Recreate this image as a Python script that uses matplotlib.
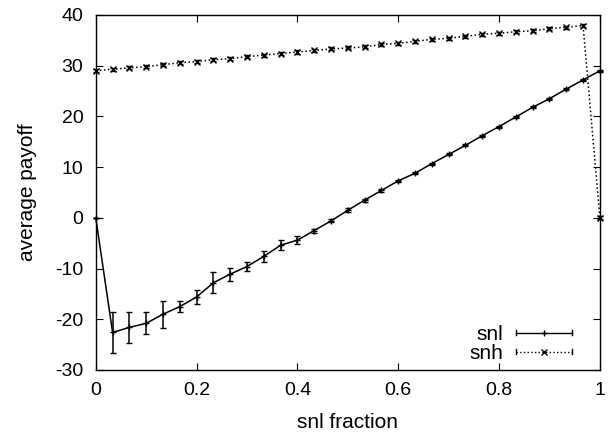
import numpy as np
import matplotlib
matplotlib.use("Agg")
import matplotlib.pyplot as plt
from matplotlib.legend_handler import HandlerBase
from matplotlib.lines import Line2D

plt.rcParams['font.family'] = ['Liberation Sans', 'DejaVu Sans']
plt.rcParams['axes.unicode_minus'] = False

# snl fraction, 31 points from 0 to 1
frac = np.arange(31) / 30.0

snl = [0.0, -22.6, -21.6, -20.8, -19.0, -17.5, -15.6, -12.8, -11.1, -9.6,
       -7.6, -5.4, -4.4, -2.5, -0.6, 1.5, 3.5, 5.4, 7.3, 8.8,
       10.7, 12.5, 14.3, 16.2, 18.0, 19.9, 21.8, 23.5, 25.4, 27.2, 29.0]
snl_err = [0.0, 4.1, 3.0, 2.2, 2.7, 1.1, 1.3, 2.1, 1.3, 0.9,
           1.1, 1.0, 0.8, 0.4, 0.3, 0.4, 0.3, 0.3, 0.2, 0.2,
           0.2, 0.2, 0.2, 0.2, 0.2, 0.2, 0.2, 0.2, 0.2, 0.2, 0.2]

snh = [29.0, 29.3, 29.6, 29.8, 30.2, 30.6, 30.8, 31.2, 31.4, 31.8,
       32.1, 32.4, 32.7, 33.0, 33.3, 33.5, 33.7, 34.2, 34.4, 34.8,
       35.2, 35.4, 35.8, 36.2, 36.4, 36.7, 36.9, 37.3, 37.6, 37.9, 0.0]
snh_err = [0.3] * 31


class ErrbarHandler(HandlerBase):
    # gnuplot-style key sample: horizontal line, caps at ends, point in middle
    def __init__(self, ls, marker):
        super().__init__()
        self.ls = ls
        self.marker = marker

    def create_artists(self, legend, orig_handle, xdescent, ydescent,
                       width, height, fontsize, trans):
        x0 = -xdescent
        x1 = x0 + width
        y = height / 2.0 - ydescent
        c = 0.2 * height
        arts = [
            Line2D([x0, x1], [y, y], color='black', lw=1.0, ls=self.ls),
            Line2D([x0, x0], [y - c, y + c], color='black', lw=1.0),
            Line2D([x1, x1], [y - c, y + c], color='black', lw=1.0),
            Line2D([(x0 + x1) / 2], [y], color='black', ls='none',
                   marker=self.marker, ms=4, mew=1.0),
        ]
        for a in arts:
            a.set_transform(trans)
        return arts


fig = plt.figure(figsize=(6.14, 4.36), dpi=100)
ax = fig.add_axes([0.156, 0.1514, 0.821, 0.8142])

h1 = ax.errorbar(frac, snl, yerr=snl_err, color='black', lw=1.1, marker='+',
                 ms=5, mew=1.0, capsize=2.5, elinewidth=1.1, label='snl',
                 clip_on=False)
h2 = ax.errorbar(frac, snh, yerr=snh_err, color='black', lw=1.1, ls=':',
                 marker='x', ms=4, mew=1.0, capsize=2.5, elinewidth=1.0,
                 label='snh', clip_on=False)

ax.set_xlim(0, 1)
ax.set_ylim(-30, 40)
ax.set_xticks([0, 0.2, 0.4, 0.6, 0.8, 1])
ax.set_xticklabels(['0', '0.2', '0.4', '0.6', '0.8', '1'])
ax.set_yticks(range(-30, 41, 10))
ax.tick_params(direction='in', top=True, right=True, labelsize=14,
               length=5, width=0.8, pad=9)
for s in ax.spines.values():
    s.set_linewidth(1.0)

ax.set_xlabel('snl fraction', fontsize=15, labelpad=10)
ax.set_ylabel('average payoff', fontsize=15, labelpad=13)

ax.legend([h1, h2], ['snl', 'snh'], loc='lower right', frameon=False,
          markerfirst=False, fontsize=15, handlelength=2.7,
          handletextpad=0.6, labelspacing=0.0, borderaxespad=0.2,
          bbox_to_anchor=(0.97, -0.015),
          handler_map={h1: ErrbarHandler('-', '+'),
                       h2: ErrbarHandler(':', 'x')})

fig.savefig('out.png', dpi=100)
